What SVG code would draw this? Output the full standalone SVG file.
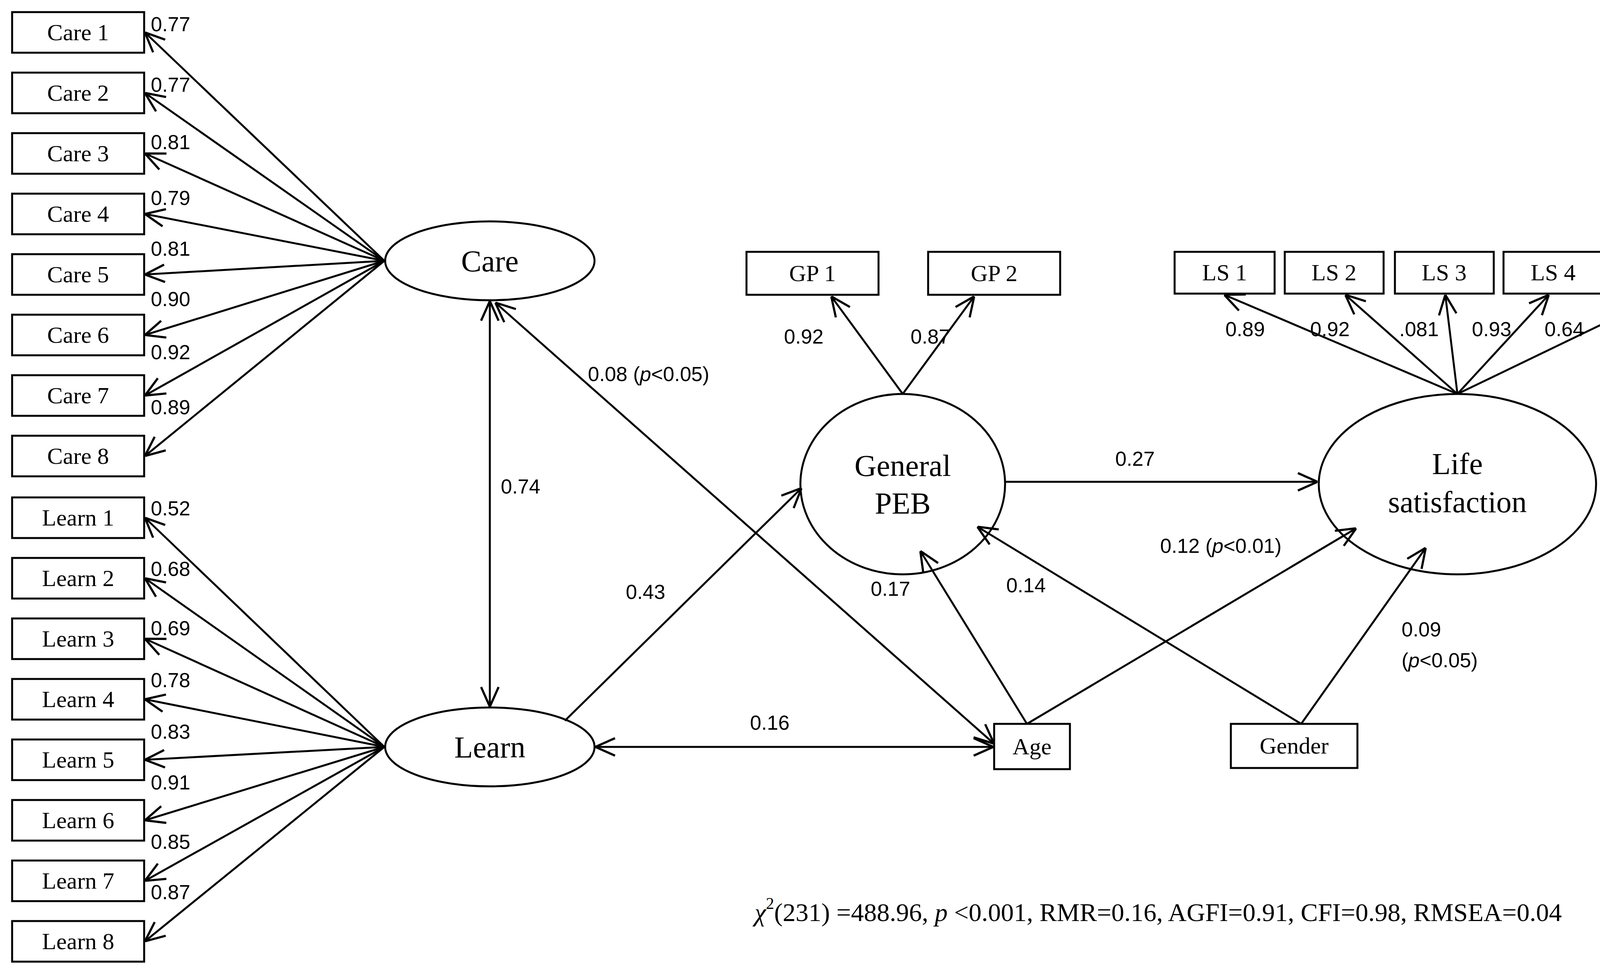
<svg xmlns="http://www.w3.org/2000/svg" width="4419" height="2510" viewBox="0 0 4419 2510">
<style>
rect.b{fill:#fff;stroke:#000;stroke-width:5}
ellipse{fill:#fff;stroke:#000;stroke-width:5}
.t{font-family:"Liberation Serif",serif;font-size:60px;text-anchor:middle;dominant-baseline:central}
.e{font-family:"Liberation Serif",serif;font-size:78px;text-anchor:middle;dominant-baseline:central}
.l{font-family:"Liberation Sans",sans-serif;font-size:52px;dominant-baseline:central}
#c line{stroke:#000;stroke-width:5;marker-end:url(#a)}
#c line.d{marker-start:url(#a)}
</style>
<defs><marker id="a" viewBox="0 0 20 20" refX="20" refY="10" markerWidth="56" markerHeight="56" markerUnits="userSpaceOnUse" orient="auto-start-reverse"><path d="M2,2 L20,10 L2,18" fill="none" stroke="#000" stroke-width="2"/></marker></defs>
<rect width="4419" height="2510" fill="#fff"/>
<g id="care1"><rect class="b" x="31" y="31" width="338" height="104"/><text class="t" x="200" y="83">Care 1</text></g>
<g id="care2"><rect class="b" x="31" y="186" width="338" height="104"/><text class="t" x="200" y="238">Care 2</text></g>
<g id="care3"><rect class="b" x="31" y="341" width="338" height="104"/><text class="t" x="200" y="393">Care 3</text></g>
<g id="care4"><rect class="b" x="31" y="496" width="338" height="104"/><text class="t" x="200" y="548">Care 4</text></g>
<g id="care5"><rect class="b" x="31" y="651" width="338" height="104"/><text class="t" x="200" y="703">Care 5</text></g>
<g id="care6"><rect class="b" x="31" y="806" width="338" height="104"/><text class="t" x="200" y="858">Care 6</text></g>
<g id="care7"><rect class="b" x="31" y="961" width="338" height="104"/><text class="t" x="200" y="1013">Care 7</text></g>
<g id="care8"><rect class="b" x="31" y="1116" width="338" height="104"/><text class="t" x="200" y="1168">Care 8</text></g>
<g id="learn1"><rect class="b" x="31" y="1274" width="338" height="104"/><text class="t" x="200" y="1326">Learn 1</text></g>
<g id="learn2"><rect class="b" x="31" y="1429" width="338" height="104"/><text class="t" x="200" y="1481">Learn 2</text></g>
<g id="learn3"><rect class="b" x="31" y="1584" width="338" height="104"/><text class="t" x="200" y="1636">Learn 3</text></g>
<g id="learn4"><rect class="b" x="31" y="1739" width="338" height="104"/><text class="t" x="200" y="1791">Learn 4</text></g>
<g id="learn5"><rect class="b" x="31" y="1894" width="338" height="104"/><text class="t" x="200" y="1946">Learn 5</text></g>
<g id="learn6"><rect class="b" x="31" y="2049" width="338" height="104"/><text class="t" x="200" y="2101">Learn 6</text></g>
<g id="learn7"><rect class="b" x="31" y="2204" width="338" height="104"/><text class="t" x="200" y="2256">Learn 7</text></g>
<g id="learn8"><rect class="b" x="31" y="2359" width="338" height="104"/><text class="t" x="200" y="2411">Learn 8</text></g>
<g id="care"><ellipse cx="1254" cy="668" rx="268" ry="101"/><text class="e" x="1254" y="668">Care</text></g>
<g id="learn"><ellipse cx="1254" cy="1913" rx="268" ry="101"/><text class="e" x="1254" y="1913">Learn</text></g>
<g id="peb"><ellipse cx="2311" cy="1240" rx="262" ry="231"/><text class="e" x="2311" y="1192">General</text><text class="e" x="2311" y="1288">PEB</text></g>
<g id="ls"><ellipse cx="3731" cy="1240" rx="355" ry="231"/><text class="e" x="3731" y="1187">Life</text><text class="e" x="3731" y="1285">satisfaction</text></g>
<g id="gp1"><rect class="b" x="1911" y="645" width="338" height="110"/><text class="t" x="2080" y="700">GP 1</text></g>
<g id="gp2"><rect class="b" x="2376" y="645" width="338" height="110"/><text class="t" x="2545" y="700">GP 2</text></g>
<g id="ls1"><rect class="b" x="3007" y="645" width="256" height="107"/><text class="t" x="3135" y="698">LS 1</text></g>
<g id="ls2"><rect class="b" x="3289" y="645" width="253" height="107"/><text class="t" x="3415" y="698">LS 2</text></g>
<g id="ls3"><rect class="b" x="3571" y="645" width="253" height="107"/><text class="t" x="3697" y="698">LS 3</text></g>
<g id="ls4"><rect class="b" x="3849" y="645" width="254" height="107"/><text class="t" x="3976" y="698">LS 4</text></g>
<g id="ls5"><rect class="b" x="4137" y="645" width="254" height="107"/><text class="t" x="4264" y="698">LS 5</text></g>
<g id="age"><rect class="b" x="2545" y="1854" width="194" height="116"/><text class="t" x="2642" y="1912">Age</text></g>
<g id="gender"><rect class="b" x="3151" y="1854" width="324" height="113"/><text class="t" x="3313" y="1910">Gender</text></g>
<g id="c">
<line x1="984" y1="668" x2="371" y2="83"/><line x1="984" y1="668" x2="371" y2="238"/><line x1="984" y1="668" x2="371" y2="393"/><line x1="984" y1="668" x2="371" y2="548"/>
<line x1="984" y1="668" x2="371" y2="703"/><line x1="984" y1="668" x2="371" y2="858"/><line x1="984" y1="668" x2="371" y2="1013"/><line x1="984" y1="668" x2="371" y2="1168"/>
<line x1="984" y1="1913" x2="371" y2="1326"/><line x1="984" y1="1913" x2="371" y2="1481"/><line x1="984" y1="1913" x2="371" y2="1636"/><line x1="984" y1="1913" x2="371" y2="1791"/>
<line x1="984" y1="1913" x2="371" y2="1946"/><line x1="984" y1="1913" x2="371" y2="2101"/><line x1="984" y1="1913" x2="371" y2="2256"/><line x1="984" y1="1913" x2="371" y2="2411"/>
<line class="d" x1="1254" y1="771" x2="1254" y2="1810"/>
<line class="d" x1="1268" y1="775" x2="2545" y2="1905"/>
<line class="d" x1="1524" y1="1913" x2="2543" y2="1913"/>
<line x1="1446" y1="1846" x2="2052" y2="1250"/>
<line x1="2575" y1="1234" x2="3373" y2="1234"/>
<line x1="2311" y1="1009" x2="2128" y2="759"/><line x1="2311" y1="1009" x2="2494" y2="759"/>
<line x1="3731" y1="1009" x2="3134" y2="755"/><line x1="3731" y1="1009" x2="3444" y2="755"/><line x1="3731" y1="1009" x2="3700" y2="755"/><line x1="3731" y1="1009" x2="3965" y2="755"/><line x1="3731" y1="1009" x2="4258" y2="755"/>
<line x1="2629" y1="1854" x2="2356" y2="1411"/>
<line x1="3331" y1="1854" x2="2502" y2="1349"/>
<line x1="2629" y1="1854" x2="3472" y2="1353"/>
<line x1="3331" y1="1854" x2="3650" y2="1403"/>
</g>
<g id="labels" class="l">
<text x="386" y="62">0.77</text><text x="386" y="217">0.77</text><text x="386" y="364">0.81</text><text x="386" y="507">0.79</text>
<text x="386" y="637">0.81</text><text x="386" y="766">0.90</text><text x="386" y="902">0.92</text><text x="386" y="1043">0.89</text>
<text x="386" y="1302">0.52</text><text x="386" y="1457">0.68</text><text x="386" y="1609">0.69</text><text x="386" y="1742">0.78</text>
<text x="386" y="1874">0.83</text><text x="386" y="2004">0.91</text><text x="386" y="2156">0.85</text><text x="386" y="2285">0.87</text>
<text x="1282" y="1246">0.74</text>
<text x="1505" y="958">0.08 (<tspan font-style="italic">p</tspan>&lt;0.05)</text>
<text x="1920" y="1851">0.16</text>
<text x="1602" y="1516">0.43</text>
<text x="2855" y="1175">0.27</text>
<text x="2007" y="862">0.92</text><text x="2331" y="862">0.87</text>
<text x="3137" y="843">0.89</text><text x="3354" y="843">0.92</text><text x="3582" y="843">.081</text><text x="3768" y="843">0.93</text><text x="3954" y="843">0.64</text>
<text x="2229" y="1508">0.17</text><text x="2576" y="1499">0.14</text>
<text x="2970" y="1398">0.12 (<tspan font-style="italic">p</tspan>&lt;0.01)</text>
<text x="3588" y="1612">0.09</text><text x="3588" y="1691">(<tspan font-style="italic">p</tspan>&lt;0.05)</text>
</g>
<text x="2965" y="2336" font-family="Liberation Serif,serif" font-size="66" text-anchor="middle" dominant-baseline="central"><tspan font-style="italic">χ</tspan><tspan font-size="42" dy="-22">2</tspan><tspan dy="22">(231) =488.96, </tspan><tspan font-style="italic">p</tspan> &lt;0.001, RMR=0.16, AGFI=0.91, CFI=0.98, RMSEA=0.04</text>
</svg>
